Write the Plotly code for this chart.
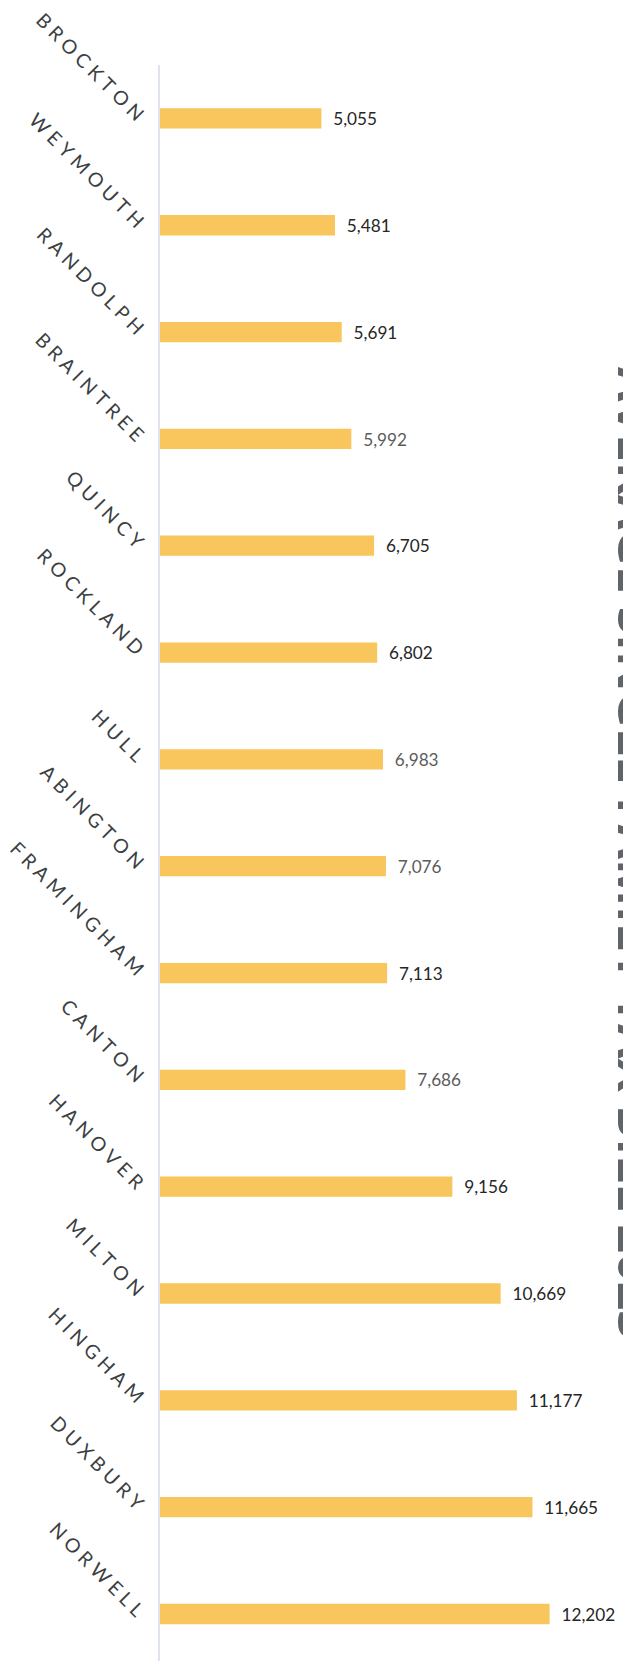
import plotly.graph_objects as go

# ---- data ----
towns = ["BROCKTON", "WEYMOUTH", "RANDOLPH", "BRAINTREE", "QUINCY", "ROCKLAND",
         "HULL", "ABINGTON", "FRAMINGHAM", "CANTON", "HANOVER", "MILTON",
         "HINGHAM", "DUXBURY", "NORWELL"]
tax_bill = [5055, 5481, 5691, 5992, 6705, 6802, 6983, 7076, 7113, 7686,
            9156, 10669, 11177, 11665, 12202]
title_text = "AVERAGE SINGLE FAMILY TAX BILL 2023"

# ---- styles (kept separate from data) ----
dark, grey = "#262626", "#5c5c5c"
label_colors = [dark, dark, dark, grey, dark, dark, grey, grey, dark, grey,
                dark, dark, dark, dark, dark]
SP = "\u2005"  # spacing between letters to mimic the tracked typography
tick_text = [SP.join(list(t)) for t in towns]

fig = go.Figure(go.Bar(
    x=tax_bill,
    y=list(range(len(towns))),
    orientation="h",
    width=0.19,
    marker=dict(color="#F8C65C", line=dict(width=0)),
    texttemplate="\u00a0\u00a0%{x:,}",
    textposition="outside",
    textfont=dict(family="Lato", size=19.5, color=label_colors),
    cliponaxis=False,
    hoverinfo="skip",
))

fig.update_layout(
    width=623, height=1661,
    margin=dict(l=160, r=0, t=65, b=0),
    paper_bgcolor="white", plot_bgcolor="white",
    showlegend=False,
    xaxis=dict(range=[0, 14500], visible=False, fixedrange=True),
    yaxis=dict(
        range=[14.44, -0.5],
        tickmode="array",
        tickvals=list(range(len(towns))),
        ticktext=tick_text,
        tickangle=45,
        ticks="",
        ticklabelstandoff=12,
        tickfont=dict(family="Lato", size=19.5, color="#3c3f42"),
        showgrid=False, zeroline=False,
        showline=True, linecolor="#dfe3f1", linewidth=1.5,
        fixedrange=True,
    ),
    annotations=[dict(
        text="<b>" + title_text + "</b>",
        textangle=90,
        xref="paper", yref="paper",
        x=0.951, y=0.506,
        xanchor="left", yanchor="middle",
        showarrow=False,
        font=dict(family="Open Sans", size=50, color="#5f6468"),
    )],
)

fig.write_html("out.html")
